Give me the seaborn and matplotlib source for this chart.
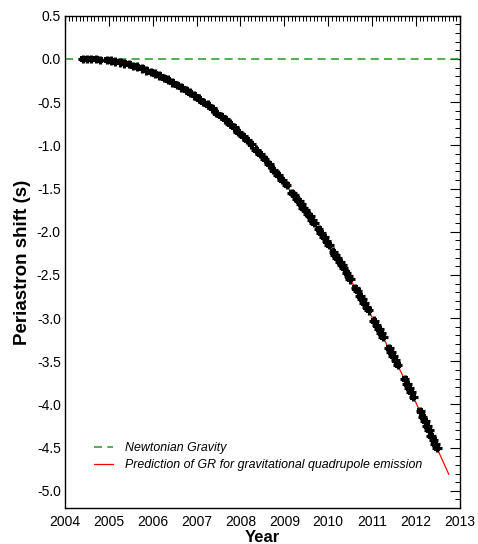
import matplotlib
matplotlib.use("Agg")
import matplotlib.pyplot as plt
import seaborn as sns
import pandas as pd
from matplotlib.ticker import MultipleLocator

# ---- data ----
gr_years = [2004.40, 2004.50, 2005.00, 2005.50, 2006.00, 2006.50, 2007.00, 2007.50,
            2008.00, 2008.50, 2009.00, 2009.50, 2010.00, 2010.50, 2011.00, 2011.50,
            2012.00, 2012.50, 2012.75]
gr_shift = [0.00, 0.00, -0.02, -0.07, -0.16, -0.28, -0.44, -0.64,
            -0.87, -1.13, -1.43, -1.77, -2.14, -2.55, -2.99, -3.46,
            -3.98, -4.53, -4.81]

newton_years = [2004.0, 2013.0]
newton_shift = [0.0, 0.0]

obs_years = [2004.40, 2004.50, 2004.60, 2004.70, 2004.80, 2004.95, 2005.05, 2005.15,
             2005.25, 2005.35, 2005.45, 2005.55, 2005.65, 2005.75, 2005.85, 2005.95,
             2006.05, 2006.15, 2006.25, 2006.35, 2006.45, 2006.55, 2006.65, 2006.75,
             2006.85, 2006.95, 2007.05, 2007.15, 2007.25, 2007.35, 2007.45, 2007.55,
             2007.65, 2007.75,
             2007.85, 2007.95, 2008.05, 2008.15, 2008.25, 2008.35, 2008.45, 2008.55,
             2008.65, 2008.75, 2008.85, 2008.95, 2009.05,
             2009.18, 2009.23, 2009.28, 2009.33, 2009.38, 2009.43, 2009.48, 2009.53,
             2009.58, 2009.63, 2009.68,
             2009.78, 2009.84, 2009.90, 2009.96, 2010.02,
             2010.12, 2010.16, 2010.20,
             2010.27, 2010.31, 2010.35,
             2010.42, 2010.46, 2010.50,
             2010.62, 2010.67, 2010.72, 2010.77, 2010.82, 2010.87, 2010.92,
             2011.05, 2011.10, 2011.15, 2011.20, 2011.25,
             2011.38, 2011.43, 2011.48, 2011.53, 2011.58,
             2011.74, 2011.79, 2011.84, 2011.89, 2011.94,
             2012.10, 2012.15, 2012.20, 2012.25, 2012.30, 2012.35, 2012.40, 2012.44,
             2012.48]
obs_shift = [0.00, 0.00, 0.00, 0.00, -0.01, -0.01, -0.02, -0.03,
             -0.04, -0.05, -0.06, -0.08, -0.09, -0.11, -0.13, -0.15,
             -0.17, -0.19, -0.22, -0.24, -0.27, -0.30, -0.33, -0.36,
             -0.39, -0.42, -0.46, -0.50, -0.53, -0.57, -0.62, -0.66,
             -0.70, -0.75,
             -0.79, -0.84, -0.89, -0.94, -0.99, -1.05, -1.10, -1.16,
             -1.22, -1.28, -1.34, -1.40, -1.46,
             -1.55, -1.58, -1.62, -1.65, -1.68, -1.72, -1.75, -1.79,
             -1.82, -1.86, -1.90,
             -1.97, -2.02, -2.06, -2.11, -2.15,
             -2.23, -2.27, -2.30,
             -2.35, -2.39, -2.42,
             -2.48, -2.51, -2.55,
             -2.65, -2.69, -2.74, -2.78, -2.82, -2.87, -2.91,
             -3.03, -3.08, -3.13, -3.17, -3.22,
             -3.35, -3.39, -3.44, -3.49, -3.54,
             -3.71, -3.76, -3.81, -3.86, -3.91,
             -4.08, -4.14, -4.19, -4.25, -4.30, -4.36, -4.41, -4.46,
             -4.50]

x_ticks = [2004, 2005, 2006, 2007, 2008, 2009, 2010, 2011, 2012, 2013]
y_ticks = [0.5, 0.0, -0.5, -1.0, -1.5, -2.0, -2.5, -3.0, -3.5, -4.0, -4.5, -5.0]

# ---- figure ----
sns.set_style("white")
plt.rcParams['font.family'] = ['Liberation Sans', 'DejaVu Sans']
plt.rcParams['axes.unicode_minus'] = False
plt.rcParams['text.color'] = 'black'
plt.rcParams['axes.labelcolor'] = 'black'
plt.rcParams['xtick.color'] = 'black'
plt.rcParams['ytick.color'] = 'black'

fig = plt.figure(figsize=(4.78, 5.44), dpi=100)
ax = fig.add_axes([0.136, 0.066, 0.826, 0.905])

df_gr = pd.DataFrame({"Year": gr_years, "Shift": gr_shift})
df_nw = pd.DataFrame({"Year": newton_years, "Shift": newton_shift})
df_obs = pd.DataFrame({"Year": obs_years, "Shift": obs_shift})

sns.lineplot(data=df_nw, x="Year", y="Shift", ax=ax, color="#229a22",
             linestyle=(0, (5.3, 3.4)), linewidth=1.1, label="Newtonian Gravity")
sns.lineplot(data=df_gr, x="Year", y="Shift", ax=ax, color="#ff0000",
             linewidth=0.9, label="Prediction of GR for gravitational quadrupole emission")

ax.errorbar(df_obs["Year"], df_obs["Shift"], xerr=0.11, yerr=0.05, fmt="none",
            ecolor="black", elinewidth=2.3, capsize=0, zorder=3)
sns.scatterplot(data=df_obs, x="Year", y="Shift", ax=ax, color="black",
                marker="s", s=20, linewidth=0, zorder=4)

ax.set_xlim(2004, 2013)
ax.set_ylim(-5.2, 0.5)
ax.set_xticks(x_ticks)
ax.set_xticklabels([str(t) for t in x_ticks])
ax.set_yticks(y_ticks)
ax.set_yticklabels([f"{t:.1f}" for t in y_ticks])
ax.xaxis.set_minor_locator(MultipleLocator(1 / 12))
ax.yaxis.set_minor_locator(MultipleLocator(0.1))
ax.tick_params(axis="x", which="major", pad=5)
ax.tick_params(axis="y", which="major", pad=3)
ax.tick_params(which="major", direction="in", length=7, width=0.8,
               top=True, right=True, labelsize=10, color="black", labelcolor="black")
ax.tick_params(which="minor", direction="in", length=3.5, width=0.7,
               top=True, right=True, color="black")
for sp in ax.spines.values():
    sp.set_color("black")
    sp.set_linewidth(1.0)

ax.set_xlabel("Year", fontsize=12, fontweight="bold", labelpad=1, color="black")
ax.set_ylabel("Periastron shift (s)", fontsize=13.5, fontweight="bold", labelpad=4,
              color="black")

leg = ax.legend(loc="lower left", bbox_to_anchor=(0.074, 0.075), frameon=False,
                prop={"style": "italic", "size": 8.9}, handlelength=1.5,
                labelspacing=0.38, handletextpad=0.95, borderpad=0,
                borderaxespad=0)
for t in leg.get_texts():
    t.set_color("black")

fig.savefig("out.png", dpi=100)
